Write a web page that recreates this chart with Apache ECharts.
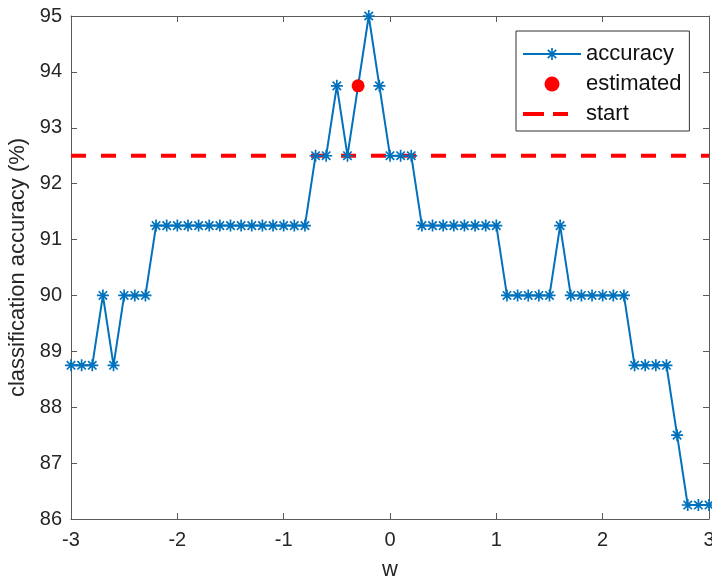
<!DOCTYPE html>
<html>
<head>
<meta charset="utf-8">
<script src="https://cdn.jsdelivr.net/npm/echarts@6/dist/echarts.min.js"></script>
<style>
  html, body { margin: 0; padding: 0; background: #fff; }
  #chart { width: 712px; height: 581px; }
</style>
</head>
<body>
<div id="chart"></div>
<script>
// w values, -3 : 0.1 : 3
const wValues = [
  -3.0, -2.9, -2.8, -2.7, -2.6, -2.5, -2.4, -2.3, -2.2, -2.1,
  -2.0, -1.9, -1.8, -1.7, -1.6, -1.5, -1.4, -1.3, -1.2, -1.1,
  -1.0, -0.9, -0.8, -0.7, -0.6, -0.5, -0.4, -0.3, -0.2, -0.1,
  0.0, 0.1, 0.2, 0.3, 0.4, 0.5, 0.6, 0.7, 0.8, 0.9,
  1.0, 1.1, 1.2, 1.3, 1.4, 1.5, 1.6, 1.7, 1.8, 1.9,
  2.0, 2.1, 2.2, 2.3, 2.4, 2.5, 2.6, 2.7, 2.8, 2.9, 3.0
];
// classification accuracy (%)
const accuracy = [
  88.75, 88.75, 88.75, 90, 88.75, 90, 90, 90, 91.25, 91.25,
  91.25, 91.25, 91.25, 91.25, 91.25, 91.25, 91.25, 91.25, 91.25, 91.25,
  91.25, 91.25, 91.25, 92.5, 92.5, 93.75, 92.5, 93.75, 95, 93.75,
  92.5, 92.5, 92.5, 91.25, 91.25, 91.25, 91.25, 91.25, 91.25, 91.25,
  91.25, 90, 90, 90, 90, 90, 91.25, 90, 90, 90,
  90, 90, 90, 88.75, 88.75, 88.75, 88.75, 87.5, 86.25, 86.25, 86.25
];
const estimatedPoint = [-0.3, 93.75];
const startLevel = 92.5;

const blue = '#0072BD';
const red = '#FF0000';
const frame = '#5a5a5a';
const font = 'Liberation Sans, Arial, sans-serif';

// MATLAB style '*' marker (plus + cross)
const starPath = 'path://M4.3 0L5.7 0L5.7 10L4.3 10Z' +
  'M0 4.3L10 4.3L10 5.7L0 5.7Z' +
  'M2 1L9 8L8 9L1 2Z' +
  'M9 2L2 9L1 8L8 1Z';

// two dashes for the 'start' legend entry, with tiny corner points to keep the box 58x15
const dashIcon = 'path://M0 0L0.05 0L0.05 0.05L0 0.05Z' +
  'M57.95 14.95L58 14.95L58 15L57.95 15Z' +
  'M0 5.5L21 5.5L21 9.5L0 9.5Z' +
  'M30 5.5L45 5.5L45 9.5L30 9.5Z';

const chart = echarts.init(document.getElementById('chart'));

const axisCommon = {
  axisLine: { show: true, onZero: false, lineStyle: { color: frame, width: 1 } },
  axisTick: { show: true, inside: true, length: 6, lineStyle: { color: frame } },
  splitLine: { show: false }
};

chart.setOption({
  animation: false,
  textStyle: { fontFamily: font },
  grid: { left: 71, right: 3, top: 16, bottom: 62, outerBoundsMode: 'none', containLabel: false },
  legend: {
    orient: 'vertical',
    left: 516,
    top: 31,
    padding: [12, 8, 6, 6],
    itemGap: 8,
    itemWidth: 58,
    itemHeight: 15,
    backgroundColor: '#fff',
    borderColor: '#333',
    borderWidth: 1,
    borderRadius: 0,
    textStyle: { fontSize: 22, color: '#111', fontFamily: font },
    data: [
      { name: 'accuracy' },
      { name: 'estimated' },
      { name: 'start', icon: dashIcon }
    ]
  },
  xAxis: [
    Object.assign({
      type: 'value', min: -3, max: 3, interval: 1,
      position: 'bottom',
      name: 'w', nameLocation: 'middle', nameGap: 40,
      nameTextStyle: { fontSize: 22, color: '#262626' },
      axisLabel: { fontSize: 20, color: '#262626', margin: 11 }
    }, axisCommon),
    Object.assign({
      type: 'value', min: -3, max: 3, interval: 1,
      position: 'top',
      axisLabel: { show: false }
    }, axisCommon)
  ],
  yAxis: [
    Object.assign({
      type: 'value', min: 86, max: 95, interval: 1,
      position: 'left',
      name: 'classification accuracy (%)', nameLocation: 'middle', nameGap: 34,
      nameTextStyle: { fontSize: 22, color: '#262626' },
      axisLabel: { fontSize: 20, color: '#262626', margin: 9 }
    }, axisCommon),
    Object.assign({
      type: 'value', min: 86, max: 95, interval: 1,
      position: 'right',
      axisLabel: { show: false }
    }, axisCommon)
  ],
  series: [
    {
      name: 'start',
      type: 'line',
      z: 1,
      symbol: 'none',
      data: [[-3, startLevel], [3, startLevel]],
      lineStyle: { color: red, width: 4, type: [15, 15] },
      itemStyle: { color: red }
    },
    {
      name: 'accuracy',
      type: 'line',
      z: 2,
      data: wValues.map((w, i) => [w, accuracy[i]]),
      symbol: starPath,
      symbolSize: 12,
      showAllSymbol: true,
      lineStyle: { color: blue, width: 2 },
      itemStyle: { color: blue }
    },
    {
      name: 'estimated',
      type: 'scatter',
      z: 3,
      data: [estimatedPoint],
      symbol: 'circle',
      symbolSize: 13,
      itemStyle: { color: red, opacity: 1 }
    }
  ]
});
</script>
</body>
</html>
